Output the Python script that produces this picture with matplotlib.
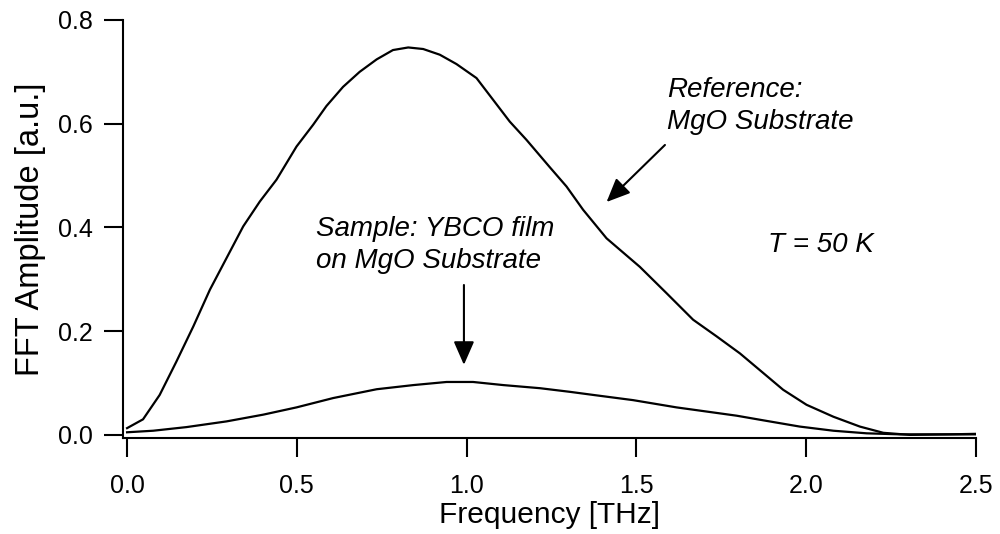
import matplotlib
matplotlib.use("Agg")
import matplotlib.pyplot as plt
from matplotlib.patches import ArrowStyle

plt.rcParams['font.family'] = ['Liberation Sans', 'DejaVu Sans']

# FFT amplitude spectra at T = 50 K
ref_freq = [0.0, 0.047, 0.096, 0.145, 0.195, 0.244, 0.293, 0.342, 0.391, 0.44,
            0.499, 0.548, 0.587, 0.636, 0.685, 0.735, 0.783, 0.828, 0.872, 0.921,
            0.970, 1.029, 1.078, 1.127, 1.176, 1.245, 1.294, 1.343, 1.412, 1.510,
            1.589, 1.667, 1.736, 1.805, 1.874, 1.932, 2.001, 2.080, 2.158, 2.227,
            2.305, 2.42, 2.5]
ref_amp = [0.013, 0.030, 0.077, 0.141, 0.209, 0.280, 0.341, 0.402, 0.450, 0.492,
           0.556, 0.598, 0.634, 0.671, 0.700, 0.724, 0.742, 0.747, 0.744, 0.733,
           0.715, 0.688, 0.646, 0.604, 0.569, 0.516, 0.479, 0.434, 0.379, 0.324,
           0.273, 0.222, 0.190, 0.157, 0.119, 0.087, 0.058, 0.035, 0.016, 0.004,
           0.0, 0.001, 0.002]

smp_freq = [0.0, 0.077, 0.175, 0.293, 0.401, 0.499, 0.607, 0.735, 0.843, 0.941,
            1.019, 1.108, 1.216, 1.304, 1.373, 1.490, 1.618, 1.795, 1.874, 1.981,
            2.080, 2.178, 2.276, 2.5]
smp_amp = [0.005, 0.008, 0.015, 0.026, 0.039, 0.053, 0.071, 0.088, 0.096, 0.102,
           0.102, 0.096, 0.090, 0.083, 0.077, 0.067, 0.053, 0.037, 0.028, 0.016,
           0.008, 0.003, 0.001, 0.001]

xticks = [0.0, 0.5, 1.0, 1.5, 2.0, 2.5]
yticks = [0.0, 0.2, 0.4, 0.6, 0.8]

fig = plt.figure(figsize=(10, 5.34), dpi=100)
ax = fig.add_axes([0.123, 0.1798, 0.853, 0.7828])

ax.plot(ref_freq, ref_amp, color='k', lw=1.6)
ax.plot(smp_freq, smp_amp, color='k', lw=1.6)

ax.set_xlim(-0.012, 2.5)
ax.set_ylim(-0.006, 0.8)
ax.set_xticks(xticks)
ax.set_yticks(yticks)
ax.set_xticklabels([f"{t:.1f}" for t in xticks])
ax.set_yticklabels([f"{t:.1f}" for t in yticks])

for side in ['top', 'right']:
    ax.spines[side].set_visible(False)
for side in ['left', 'bottom']:
    ax.spines[side].set_linewidth(1.5)

ax.tick_params(axis='both', direction='out', length=14, width=1.5,
               labelsize=18)
ax.tick_params(axis='x', pad=12)
ax.tick_params(axis='y', pad=8)

ax.set_xlabel('Frequency [THz]', fontsize=21.5, labelpad=2)
ax.set_ylabel('FFT Amplitude [a.u.]', fontsize=23.5, labelpad=8)

head = ArrowStyle('-|>', head_length=0.8, head_width=0.35)
ax.annotate('', xy=(0.992, 0.135), xytext=(0.992, 0.289),
            arrowprops=dict(arrowstyle=head, mutation_scale=18, lw=1.5,
                            color='k', shrinkA=0, shrinkB=0))
ax.annotate('', xy=(1.412, 0.449), xytext=(1.584, 0.559),
            arrowprops=dict(arrowstyle=head, mutation_scale=18, lw=1.5,
                            color='k', shrinkA=0, shrinkB=0))

ax.text(0.556, 0.366, 'Sample: YBCO film\non MgO Substrate', fontsize=20,
        style='italic', ha='left', va='center', linespacing=1.3)
ax.text(1.590, 0.635, 'Reference:\nMgO Substrate', fontsize=20,
        style='italic', ha='left', va='center', linespacing=1.3)
ax.text(1.887, 0.366, 'T = 50 K', fontsize=20, style='italic',
        ha='left', va='center')

fig.savefig('out.png', dpi=100)
